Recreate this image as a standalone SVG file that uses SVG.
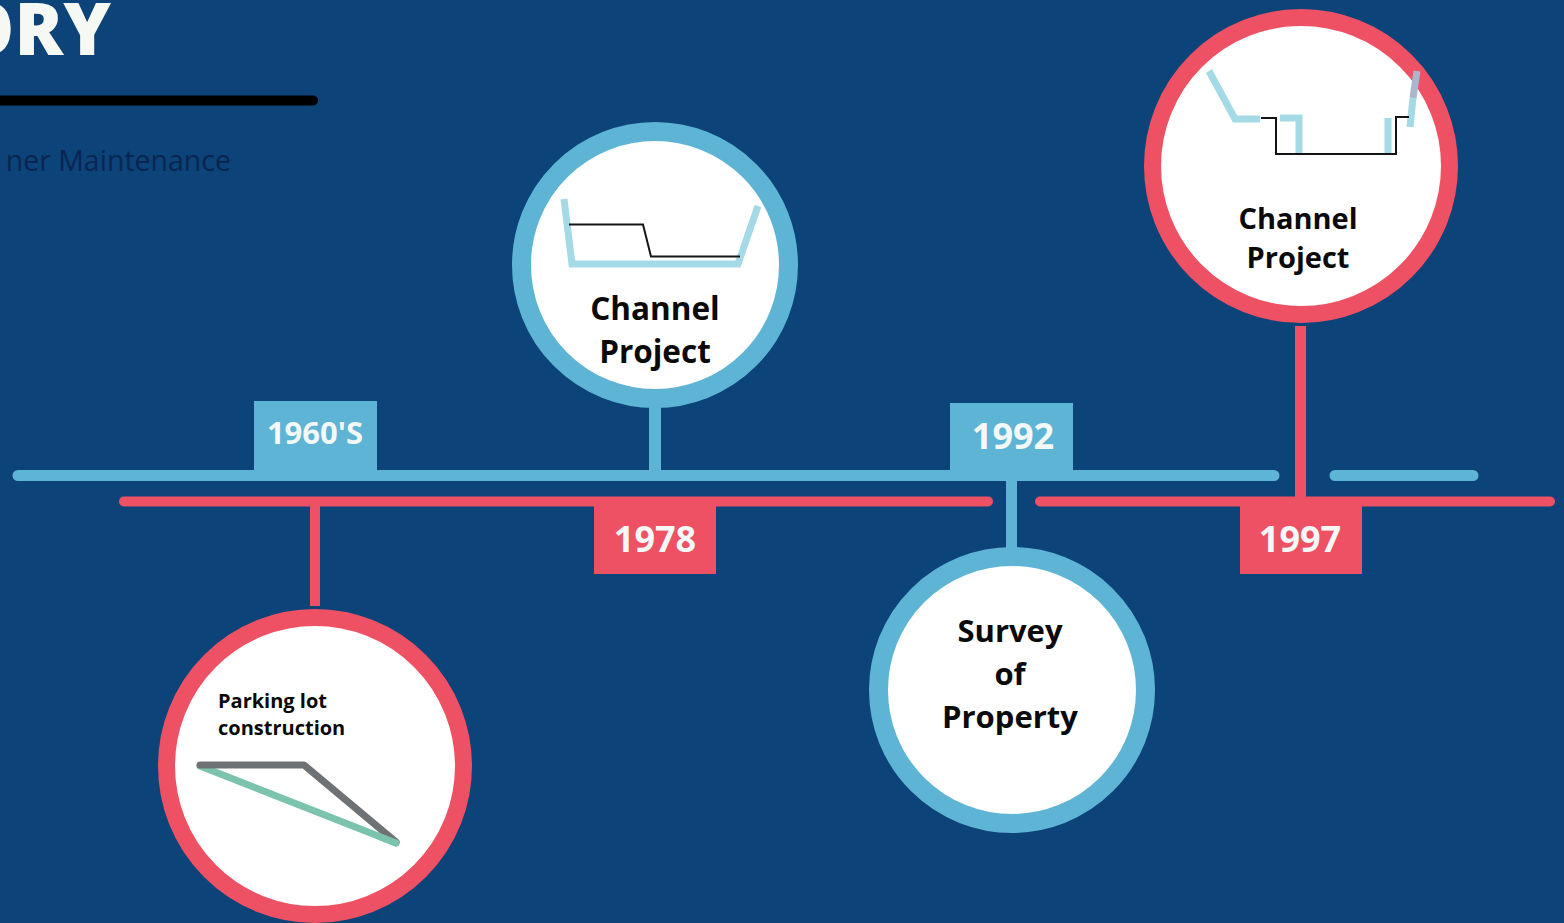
<svg xmlns="http://www.w3.org/2000/svg" width="1564" height="923" viewBox="0 0 1564 923">
<style>
text{font-family:"Open Sans","Noto Sans","Liberation Sans",sans-serif;font-weight:700;text-anchor:middle}
.lb{stroke:#5eb4d4;fill:none}
.lr{stroke:#ee5163;fill:none}
.cb{fill:#fff;stroke:#5eb4d4;stroke-width:19}
.cr{fill:#fff;stroke:#ee5163;stroke-width:17}
.k{fill:#0a0a0a}
.y{fill:#f4f8f6;font-size:36px}
.pale{stroke:#a4d9e6;stroke-width:7;fill:none}
.blk{stroke:#151515;stroke-width:2;fill:none}
</style>
<rect id="background" width="1564" height="923" fill="#0c4379"/>
<g id="heading">
<text x="111" y="55" style="text-anchor:end;font-size:72px;font-weight:800" fill="#f6f8f4">ORY</text>
<path d="M0 100.500H313" stroke="#000" stroke-width="10" stroke-linecap="round" fill="none"/>
<text x="231" y="171" style="text-anchor:end;font-weight:400;font-size:28.500px" fill="#0a2650">ner Maintenance</text>
</g>
<g id="connectors">
<path class="lb" d="M18 475.500H1274M1335 475.500H1473" stroke-width="11" stroke-linecap="round"/>
<path class="lr" d="M124 501.500H988M1040 501.500H1550" stroke-width="10" stroke-linecap="round"/>
<path class="lb" d="M655 400V472" stroke-width="12"/>
<path class="lb" d="M1011.500 478V552" stroke-width="11"/>
<path class="lr" d="M315 503V606" stroke-width="10"/>
<path class="lr" d="M1300.500 326V500" stroke-width="11"/>
</g>
<g id="label-1960s"><rect x="254" y="401" width="123" height="70" fill="#5eb4d4"/><text class="y" x="315" y="444" style="font-size:31px">1960'S</text></g>
<g id="label-1978"><rect x="594" y="505" width="122" height="69" fill="#ee5163"/><text class="y" x="655" y="552">1978</text></g>
<g id="label-1992"><rect x="950" y="403" width="123" height="68" fill="#5eb4d4"/><text class="y" x="1013" y="449">1992</text></g>
<g id="label-1997"><rect x="1240" y="505" width="122" height="69" fill="#ee5163"/><text class="y" x="1300" y="552">1997</text></g>
<g id="node-channel-1978">
<circle class="cb" cx="655" cy="265" r="133.500"/>
<path class="pale" d="M564 199L572 264H738L758 206"/>
<path class="blk" d="M569 224.500H643L651 256.500H740"/>
<text class="k" x="655" y="320" font-size="31.500">Channel</text>
<text class="k" x="655" y="363" font-size="31.500">Project</text>
</g>
<g id="node-channel-1997">
<circle class="cr" cx="1301" cy="166" r="148.500"/>
<path class="pale" d="M1209 71L1235 119H1260M1280 118H1299V155M1388 155V118"/>
<path d="M1417 71L1413 98" stroke="#a9b6cc" stroke-width="7" fill="none"/>
<path class="pale" d="M1413 98L1410 127"/>
<path class="blk" d="M1261 118H1276V154H1396V117H1409"/>
<text class="k" x="1298" y="229" font-size="29">Channel</text>
<text class="k" x="1298" y="268" font-size="29">Project</text>
</g>
<g id="node-parking">
<circle class="cr" cx="315" cy="766" r="148.500"/>
<path d="M200 766L396 843" stroke="#7cc3ad" stroke-width="7" stroke-linecap="round" fill="none"/>
<path d="M200 765H304L396 842" stroke="#6f7275" stroke-width="7" stroke-linecap="round" stroke-linejoin="round" fill="none"/>
<path d="M380 836.700L396 843" stroke="#7cc3ad" stroke-width="7" stroke-linecap="round" fill="none"/>
<text class="k" x="218" y="708" font-size="20" style="text-anchor:start">Parking lot</text>
<text class="k" x="218" y="735" font-size="20" style="text-anchor:start">construction</text>
</g>
<g id="node-survey">
<circle class="cb" cx="1012" cy="690" r="133.500"/>
<text class="k" x="1010" y="642" font-size="31">Survey</text>
<text class="k" x="1010" y="685" font-size="31">of</text>
<text class="k" x="1010" y="728" font-size="31">Property</text>
</g>
</svg>
